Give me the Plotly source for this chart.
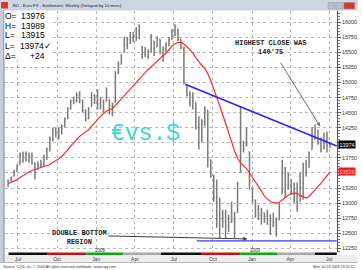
import plotly.graph_objects as go
import pandas as pd

# ---------------- data (Euro FX weekly, price in points) ----------------
first_bar = "2007-06-08"
open_ = [13370,13360,13440,13530,13640,13800,13820,13710,13780,13670,
         13560,13620,13650,13760,13900,14080,14220,14140,14200,14280,
         14400,14560,14690,14700,14800,14700,14540,14400,14605,14780,
         14720,14640,14700,14690,14720,14500,14670,15160,15305,15505,
         15620,15720,15740,15800,15860,15600,15460,15480,15520,15690,
         15590,15720,15500,15540,15650,15720,15860,15890,15720,15560,
         14940,14800,14820,14670,14280,14230,14360,14540,13720,13450,
         13100,12660,12730,12700,12620,12690,12720,12850,13520,14020,
         13990,13850,13250,13050,12900,12800,12840,12780,12800,12620,
         12680,12720,13150,13580,13290,13390,13190,13030,13260,13270,
         13650,13590,13890,14060,14075,13990,13900,14040,13976]
high = [13390,13440,13555,13640,13840,13855,13855,13840,13840,13670,
        13690,13720,13805,13920,14105,14255,14255,14255,14305,14420,
        14590,14720,14770,14840,14855,14720,14555,14590,14840,14805,
        14890,14755,14720,14920,14720,14670,15190,15355,15470,15755,
        15755,15840,15840,15920,15970,15605,15590,15555,15805,15690,
        15770,15720,15605,15670,15755,15890,15970,15890,15720,15600,
        14940,14855,14840,14670,14440,14390,14605,14540,13720,13470,
        13390,13090,12890,12890,12805,13020,12855,13355,14605,14030,
        14255,13850,13255,13055,12970,12920,12840,12890,12805,12840,
        12755,13000,13720,13600,13505,13390,13340,13340,13505,13670,
        13720,13855,14255,14305,14220,14090,14170,14190,13989]
low = [13270,13355,13440,13520,13640,13670,13690,13670,13640,13390,
       13555,13590,13605,13720,13855,14020,14090,14055,14140,14255,
       14390,14555,14640,14670,14655,14505,14355,14390,14605,14640,
       14555,14555,14505,14690,14470,14440,14670,15140,15305,15505,
       15555,15640,15670,15690,15720,15390,15420,15390,15505,15440,
       15590,15470,15340,15505,15605,15720,15770,15690,15555,14970,
       14770,14605,14555,14220,13890,14005,14270,13590,13420,13020,
       12590,12420,12590,12420,12520,12670,12420,12840,13500,13840,
       13940,13220,13005,12755,12720,12640,12670,12640,12470,12605,
       12440,12720,13150,13090,13220,13140,13005,12855,13020,13055,
       13440,13590,13890,14055,13970,13840,13890,13840,13915]
close = [13330,13420,13530,13610,13800,13820,13710,13780,13680,13480,
         13620,13650,13760,13900,14080,14220,14140,14200,14280,14400,
         14560,14690,14700,14800,14700,14540,14400,14560,14780,14720,
         14640,14700,14560,14880,14500,14640,15160,15300,15440,15620,
         15720,15740,15800,15860,15740,15460,15480,15520,15760,15560,
         15720,15500,15540,15650,15700,15860,15900,15720,15580,15010,
         14800,14820,14680,14280,14230,14360,14540,13760,13450,13100,
         12660,12730,12700,12620,12690,12720,12830,13320,14020,13990,
         13970,13340,13050,12900,12800,12880,12780,12860,12580,12680,
         12560,12980,13580,13290,13480,13190,13030,13260,13270,13650,
         13520,13840,14060,14075,13990,13900,14040,13960,13974]
# closes of the 19 weeks before the first visible bar (feed the moving average)
prior_closes = [13020,13050,13110,13080,13150,13180,13200,13150,13190,
                13320,13380,13460,13560,13610,13570,13560,13500,13520,13460]
ma_period = 20

# header values
hdr_labels = ["O=", "H=", "L=", "L=", "\u0394="]
hdr_values = ["13976", "13989", "13915", "13974\u2713", "+24"]
last_price = 13974

# drawn study lines
trend_dates = ["2008-07-28", "2009-07-19"]
trend_prices = [14972, 13948]
support_dates = ["2008-08-24", "2009-07-19"]
support_price = 12372

# axis ticks (labels hidden where the price boxes sit)
y_ticks = [12250,12500,12750,13000,13250,13500,13750,14000,14250,14500,
           14750,15000,15250,15500,15750,16000]
y_hidden = [13500, 14000]
x_ticks = ["2007-07-01","2007-10-01","2008-01-01","2008-04-01","2008-07-01",
           "2008-10-01","2009-01-01","2009-04-01","2009-07-01"]
x_ticktext = ["Jul","Oct","Jan","Apr","Jul","Oct","Jan","Apr","Jul"]
# colour band under the chart (quarter colouring)
band_edges = ["2007-06-09","2007-09-09","2007-12-09","2008-03-05","2008-06-01",
              "2008-09-05","2008-12-04","2009-03-02","2009-05-29","2009-07-19"]
band_colors = ["#111111","#c41212","#10a810","#a8a8a8",
               "#111111","#c41212","#10a810","#a8a8a8","#111111"]

x_range = ["2007-05-31 16:00", "2009-07-19 14:00"]
y_range = [12188, 16188]

# ---------------- figure ----------------
dates = pd.date_range(first_bar, periods=len(close), freq="7D")
all_closes = pd.Series(prior_closes + close)
ma = all_closes.rolling(ma_period).mean().iloc[len(prior_closes):].to_numpy()

W, H = 362, 270
L_M, R_M, T_M, B_M = 5, 21, 11, 18
PW, PH = W - L_M - R_M, H - T_M - B_M


def px(x):
    return (x - L_M) / PW


def py(y):
    return (H - B_M - y) / PH


fig = go.Figure()
fig.add_trace(go.Ohlc(
    x=dates, open=open_, high=high, low=low, close=close,
    increasing=dict(line=dict(color="#7a7a7a")),
    decreasing=dict(line=dict(color="#7a7a7a")),
    line=dict(width=1.5), tickwidth=0.3, hoverinfo="skip"))
fig.add_trace(go.Scatter(x=dates, y=ma, mode="lines",
                         line=dict(color="#ff2a2a", width=1.2), hoverinfo="skip"))
fig.add_trace(go.Scatter(x=trend_dates, y=trend_prices, mode="lines",
                         line=dict(color="#2424ff", width=1.6), hoverinfo="skip"))
fig.add_trace(go.Scatter(x=support_dates, y=[support_price, support_price], mode="lines",
                         line=dict(color="#3a3aff", width=1.3), hoverinfo="skip"))

shapes = []
# title bar
shapes.append(dict(type="rect", xref="paper", yref="paper", x0=px(0), x1=px(W), y0=py(10.5), y1=py(0),
                   fillcolor="#cdd5e0", line=dict(width=0), layer="above"))
shapes.append(dict(type="rect", xref="paper", yref="paper", x0=px(1), x1=px(8), y0=py(8.5), y1=py(2),
                   fillcolor="#d83a2a", line=dict(width=0), layer="above"))
for bx0, bx1, col in [(332, 339, "#b8c0cc"), (340, 347, "#b8c0cc"), (348, 359, "#d8372b")]:
    shapes.append(dict(type="rect", xref="paper", yref="paper", x0=px(bx0), x1=px(bx1), y0=py(9), y1=py(2.5),
                       fillcolor=col, line=dict(color="#8894a4", width=0.5), layer="above"))
# left frame strip
shapes.append(dict(type="rect", xref="paper", yref="paper", x0=px(0), x1=px(4), y0=py(262), y1=py(10.5),
                   fillcolor="#c6ceda", line=dict(width=0), layer="above"))
shapes.append(dict(type="line", xref="paper", yref="paper", x0=px(4), x1=px(4), y0=py(262), y1=py(10.5),
                   line=dict(color="#7d8796", width=1), layer="above"))
# header box
shapes.append(dict(type="rect", xref="paper", yref="paper", x0=px(4.5), x1=px(52), y0=py(60), y1=py(11),
                   fillcolor="white", line=dict(width=0), layer="above"))
# bottom label band and footer
shapes.append(dict(type="rect", xref="paper", yref="paper", x0=px(4.5), x1=px(W), y0=py(262), y1=py(255),
                   fillcolor="#ececec", line=dict(width=0), layer="below"))
shapes.append(dict(type="line", xref="paper", yref="paper", x0=px(0), x1=px(W), y0=py(262.5), y1=py(262.5),
                   line=dict(color="#b8b8b8", width=1), layer="above"))
# quarter colour band
for i, col in enumerate(band_colors):
    shapes.append(dict(type="rect", xref="x", yref="paper", x0=band_edges[i], x1=band_edges[i + 1],
                       y0=py(255), y1=py(252.5), fillcolor=col, line=dict(width=0), layer="above"))

ann = []
ann.append(dict(xref="paper", yref="paper", x=px(11), y=py(5), xanchor="left", yanchor="middle",
                text="EU - Euro FX - Settlement, Weekly (Delayed by 10 mins)", showarrow=False,
                font=dict(family="Liberation Sans", size=4.3, color="#1a1a1a")))
for k, (lab, val) in enumerate(zip(hdr_labels, hdr_values)):
    yy = 15.5 + 10 * k
    ann.append(dict(xref="paper", yref="paper", x=px(3), y=py(yy), xanchor="left", yanchor="middle",
                    text=lab, showarrow=False, font=dict(family="Liberation Sans", size=8.5, color="black")))
    ann.append(dict(xref="paper", yref="paper", x=px(55 if "\u2713" in val else 48), y=py(yy),
                    xanchor="right", yanchor="middle", text=val, showarrow=False,
                    font=dict(family="Liberation Sans", size=8.5, color="black")))
ann.append(dict(xref="paper", yref="paper", x=px(147), y=py(134), xanchor="center", yanchor="middle",
                text="\u20acvs.$", showarrow=False,
                font=dict(family="Liberation Mono", size=23, color="#3fd6cb")))
ann.append(dict(xref="paper", yref="paper", x=px(274), y=py(47.5), xanchor="center", yanchor="middle",
                text="<b>HIGHEST CLOSE WAS</b><br><b>140'75</b>", showarrow=False,
                font=dict(family="Liberation Mono", size=7, color="#1e1e1e")))
ann.append(dict(xref="paper", yref="paper", x=px(80), y=py(237), xanchor="center", yanchor="middle",
                text="<b>DOUBLE BOTTOM</b><br><b>REGION</b>", showarrow=False,
                font=dict(family="Liberation Mono", size=7, color="#1e1e1e")))
ann.append(dict(xref="x", yref="y", x="2009-06-10", y=14272, axref="x", ayref="y",
                ax="2009-03-07", ay=15355, text="", showarrow=True, arrowhead=2, arrowsize=0.8,
                arrowwidth=1, arrowcolor="#6e6e6e"))
ann.append(dict(xref="x", yref="y", x="2008-12-21", y=12405, axref="x", ayref="y",
                ax="2008-01-26", ay=12455, text="", showarrow=True, arrowhead=2, arrowsize=0.8,
                arrowwidth=1, arrowcolor="#3c3c3c"))
for yr, d in [("2008", "2008-01-11"), ("2009", "2009-01-10")]:
    ann.append(dict(xref="x", yref="paper", x=d, y=py(250.3), xanchor="center", yanchor="middle",
                    text=yr, showarrow=False, font=dict(family="Liberation Sans", size=4.5, color="#333")))
ann.append(dict(xref="paper", yref="y", x=1.002, y=last_price, xanchor="left", yanchor="middle",
                text=str(last_price), showarrow=False, bgcolor="black", borderpad=0.6,
                font=dict(family="Liberation Sans", size=5.4, color="white")))
ann.append(dict(xref="paper", yref="y", x=1.002, y=float(ma[-1]), xanchor="left", yanchor="middle",
                text=f"{ma[-1]:.0f}", showarrow=False, bgcolor="#ff1a1a", borderpad=0.6,
                font=dict(family="Liberation Sans", size=5.4, color="#ffe0e0")))
ann.append(dict(xref="paper", yref="paper", x=px(1), y=py(266.5), xanchor="left", yanchor="middle",
                text="Source: CQG, Inc. \u00a9 2009 All rights reserved worldwide. www.cqg.com",
                showarrow=False, font=dict(family="Liberation Sans", size=3.6, color="#333")))
ann.append(dict(xref="paper", yref="paper", x=px(361), y=py(266.5), xanchor="right", yanchor="middle",
                text="Mon Jul 13 2009 13:20:12", showarrow=False,
                font=dict(family="Liberation Sans", size=3.6, color="#333")))

fig.update_layout(
    width=W, height=H, margin=dict(l=L_M, r=R_M, t=T_M, b=B_M, pad=0),
    paper_bgcolor="white", plot_bgcolor="white", showlegend=False,
    shapes=shapes, annotations=ann, hovermode=False,
    xaxis=dict(type="date", range=x_range, tickvals=x_ticks, ticktext=x_ticktext,
               showgrid=True, gridcolor="#b9b9b9", griddash="dot", gridwidth=1,
               ticks="", zeroline=False, showline=False, rangeslider=dict(visible=False),
               tickfont=dict(family="Liberation Sans", size=5, color="#444"), ticklabelstandoff=3),
    yaxis=dict(range=y_range, side="right", tickvals=y_ticks,
               ticktext=["" if v in y_hidden else str(v) for v in y_ticks],
               showgrid=True, gridcolor="#b9b9b9", griddash="dot", gridwidth=1,
               ticks="outside", ticklen=3, tickcolor="#555", showline=True, linecolor="#555",
               linewidth=1, zeroline=False,
               minor=dict(dtick=50, ticks="outside", ticklen=1.5, tickcolor="#777", showgrid=False),
               tickfont=dict(family="Liberation Sans", size=5.4, color="#333")),
)

fig.write_html("out.html")
